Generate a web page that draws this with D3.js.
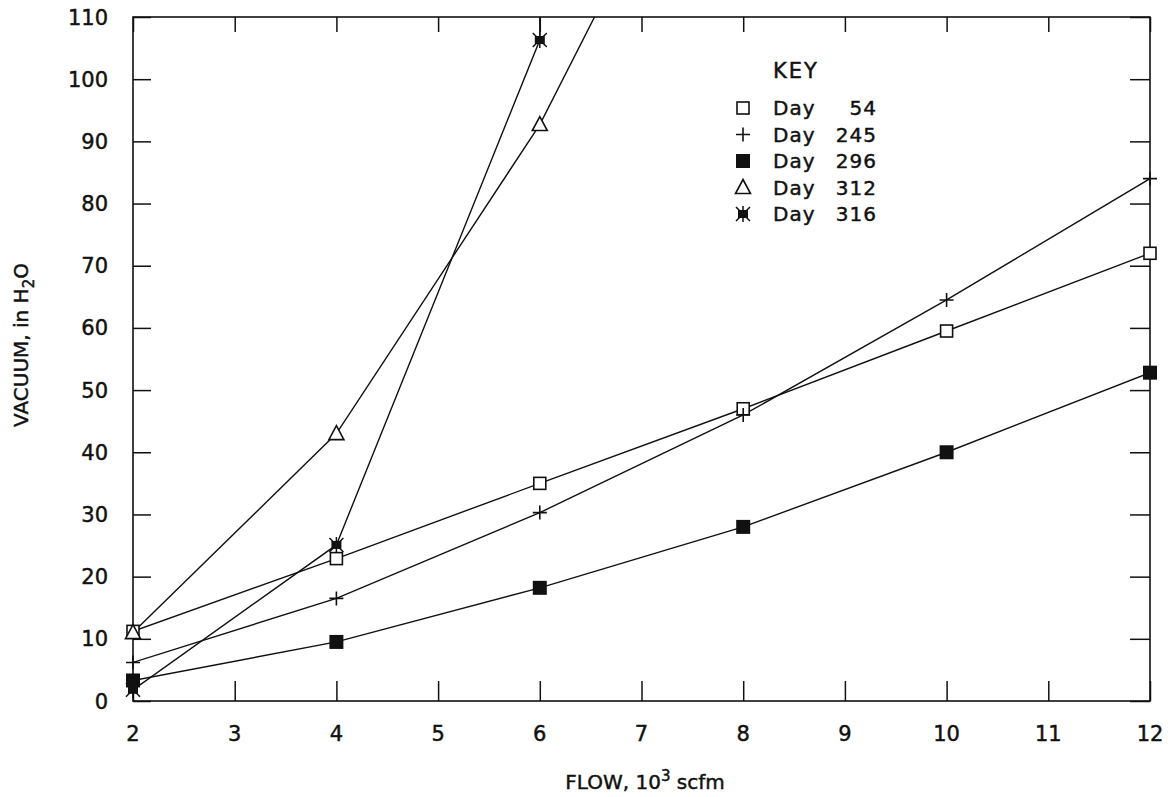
<!DOCTYPE html>
<html>
<head>
<meta charset="utf-8">
<script src="https://cdn.jsdelivr.net/npm/d3@7"></script>
<style>
  body { margin: 0; background: #fff; }
  svg { display: block; }
  text { font-family: "DejaVu Sans", "Liberation Sans", sans-serif; fill: #111; stroke: #111; stroke-width: 0.45px; }
</style>
</head>
<body>
<svg id="chart" width="1168" height="797"></svg>
<script>
// ---- data ----
const flow = [2, 4, 6, 8, 10, 12];
const day54  = [11.2, 22.9, 35.0, 47.0, 59.5, 72.0];
const day245 = [6.2, 16.5, 30.3, 46.0, 64.5, 84.0];
const day296 = [3.3, 9.5, 18.2, 28.0, 40.0, 52.8];
const day312Flow = [2, 4, 6, 8];
const day312 = [11.0, 43.0, 92.7, 157.0];
const day316Flow = [2, 4, 6, 6];
const day316 = [1.8, 25.1, 106.3, 118.0];
const xTicks = [2, 3, 4, 5, 6, 7, 8, 9, 10, 11, 12];
const yTicks = [0, 10, 20, 30, 40, 50, 60, 70, 80, 90, 100, 110];
const legendNums = ["54", "245", "296", "312", "316"];

// ---- layout ----
const L = 133, R = 1150, T = 17, B = 701;
const svg = d3.select("#chart");
const x = d3.scaleLinear().domain([2, 12]).range([L, R]);
const y = d3.scaleLinear().domain([0, 110]).range([B, T]);

svg.append("defs").append("clipPath").attr("id", "plotclip")
  .append("rect").attr("x", L).attr("y", T).attr("width", R - L).attr("height", B - T);

// axes (ticks inward on all four sides)
const axStroke = g => {
  g.select(".domain").remove();
  g.selectAll("line").attr("stroke", "#111").attr("stroke-width", 1.5);
};
svg.append("g").attr("transform", `translate(${L},0)`)
  .call(d3.axisRight(y).tickValues(yTicks).tickSize(18).tickFormat(""))
  .call(axStroke);
svg.append("g").attr("transform", `translate(${R},0)`)
  .call(d3.axisLeft(y).tickValues(yTicks).tickSize(20).tickFormat(""))
  .call(axStroke);
svg.append("g").attr("transform", `translate(0,${B})`)
  .call(d3.axisTop(x).tickValues(xTicks).tickSize(20).tickFormat(""))
  .call(axStroke);
svg.append("g").attr("transform", `translate(0,${T})`)
  .call(d3.axisBottom(x).tickValues(xTicks).tickSize(15).tickFormat(""))
  .call(axStroke);

// frame
svg.append("rect").attr("x", L).attr("y", T).attr("width", R - L).attr("height", B - T)
  .attr("fill", "none").attr("stroke", "#111").attr("stroke-width", 1.6);

// tick labels
svg.append("g").selectAll("text").data(yTicks).join("text")
  .attr("x", 108).attr("y", d => y(d)).attr("dy", "0.36em")
  .attr("text-anchor", "end").attr("font-size", 21).text(d => d);
svg.append("g").selectAll("text").data(xTicks).join("text")
  .attr("x", d => x(d)).attr("y", 733).attr("dy", "0.36em")
  .attr("text-anchor", "middle").attr("font-size", 21).text(d => d);

// axis titles
const xt = svg.append("text").attr("x", 645).attr("y", 789)
  .attr("text-anchor", "middle").attr("font-size", 20);
xt.append("tspan").text("FLOW, 10");
xt.append("tspan").attr("font-size", 15).attr("dy", -8).text("3");
xt.append("tspan").attr("dy", 8).text(" scfm");

const yt = svg.append("text").attr("transform", "translate(28,345) rotate(-90)")
  .attr("text-anchor", "middle").attr("font-size", 20);
yt.append("tspan").text("VACUUM, in H");
yt.append("tspan").attr("font-size", 15).attr("dy", 6).text("2");
yt.append("tspan").attr("dy", -6).text("O");

// lines
const line = d3.line().x(d => x(d[0])).y(d => y(d[1]));
const series = [
  { xs: flow, ys: day54, sym: "openSquare" },
  { xs: flow, ys: day245, sym: "plus" },
  { xs: flow, ys: day296, sym: "filledSquare" },
  { xs: day312Flow, ys: day312, sym: "triangle" },
  { xs: day316Flow, ys: day316, sym: "star" }
];
const lg = svg.append("g").attr("clip-path", "url(#plotclip)");
series.forEach(s => {
  const pts = s.xs.map((v, i) => [v, s.ys[i]]);
  lg.append("path").attr("d", line(pts)).attr("fill", "none")
    .attr("stroke", "#111").attr("stroke-width", 1.4);
});

// markers
function drawMarker(g, sym, cx, cy) {
  if (sym === "openSquare") {
    g.append("rect").attr("x", cx - 6).attr("y", cy - 6).attr("width", 12).attr("height", 12)
      .attr("fill", "#fff").attr("stroke", "#111").attr("stroke-width", 1.6);
  } else if (sym === "filledSquare") {
    g.append("rect").attr("x", cx - 7).attr("y", cy - 7).attr("width", 14).attr("height", 14)
      .attr("fill", "#111");
  } else if (sym === "plus") {
    g.append("path").attr("d", `M${cx - 7},${cy}H${cx + 7}M${cx},${cy - 7}V${cy + 7}`)
      .attr("stroke", "#111").attr("stroke-width", 1.6);
  } else if (sym === "triangle") {
    g.append("path").attr("d", `M${cx},${cy - 8}L${cx + 7.5},${cy + 6}L${cx - 7.5},${cy + 6}Z`)
      .attr("fill", "#fff").attr("stroke", "#111").attr("stroke-width", 1.6);
  } else if (sym === "star") {
    g.append("path").attr("d", `M${cx - 7},${cy - 7}L${cx + 7},${cy + 7}M${cx + 7},${cy - 7}L${cx - 7},${cy + 7}M${cx},${cy - 8}V${cy + 8}`)
      .attr("stroke", "#111").attr("stroke-width", 1.5);
    g.append("rect").attr("x", cx - 5).attr("y", cy - 4).attr("width", 10).attr("height", 8)
      .attr("fill", "#111");
  }
}
const mg = svg.append("g");
series.forEach(s => {
  s.xs.forEach((v, i) => {
    const val = s.ys[i];
    if (val > 110) return;
    if (i > 0 && s.xs[i] === s.xs[i - 1]) return;
    drawMarker(mg, s.sym, x(v), y(val));
  });
});

// legend
const legX = 743, legY0 = 108, legStep = 26.5;
svg.append("text").attr("x", 773).attr("y", 70).attr("dy", "0.36em")
  .attr("font-size", 21).attr("letter-spacing", 2).text("KEY");
series.forEach((s, i) => {
  const yy = legY0 + i * legStep;
  drawMarker(svg, s.sym, legX, yy);
  svg.append("text").attr("x", 773).attr("y", yy).attr("dy", "0.36em")
    .attr("font-size", 20).attr("letter-spacing", 1).text("Day");
  svg.append("text").attr("x", 877).attr("y", yy).attr("dy", "0.36em")
    .attr("text-anchor", "end").attr("font-size", 20).attr("letter-spacing", 1).text(legendNums[i]);
});
</script>
</body>
</html>
